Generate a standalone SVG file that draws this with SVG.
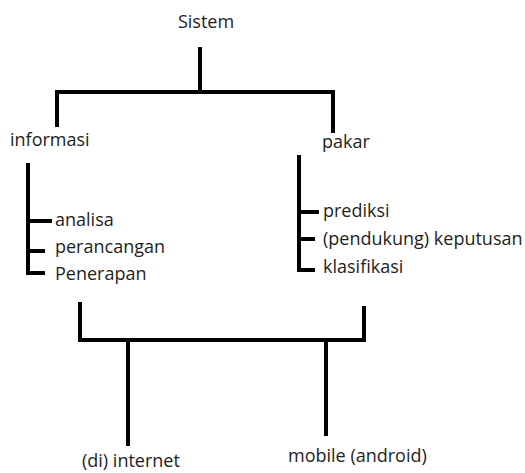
<svg xmlns="http://www.w3.org/2000/svg" width="525" height="473" viewBox="0 0 525 473">
<style>
text{font-family:"Open Sans","DejaVu Sans",sans-serif;font-size:18px;fill:#1e1e1e}
.c{fill:none;stroke:#000;stroke-width:4;stroke-linecap:butt;stroke-linejoin:miter}
</style>
<rect width="525" height="473" fill="#fff"/>
<g id="connectors">
<path class="c" d="M200 47V92"/>
<path class="c" d="M57 127V92H333V133"/>
<path class="c" d="M28 163V275"/>
<path class="c" d="M28 221H52M28 251H45M28 273H45"/>
<path class="c" d="M299 155V272"/>
<path class="c" d="M299 212H319M299 239H315M299 270H315"/>
<path class="c" d="M80 302V340H364V306"/>
<path class="c" d="M128 340V446M326 340V436"/>
</g>
<g id="sistem"><text x="206" y="28" text-anchor="middle">Sistem</text></g>
<g id="informasi"><text x="10" y="146">informasi</text></g>
<g id="pakar"><text x="322" y="148">pakar</text></g>
<g id="analisa"><text x="55" y="226">analisa</text></g>
<g id="perancangan"><text x="55" y="253">perancangan</text></g>
<g id="penerapan"><text x="55" y="280">Penerapan</text></g>
<g id="prediksi"><text x="323" y="217">prediksi</text></g>
<g id="keputusan"><text x="323" y="245">(pendukung) keputusan</text></g>
<g id="klasifikasi"><text x="323" y="273">klasifikasi</text></g>
<g id="internet"><text x="82" y="467">(di) internet</text></g>
<g id="mobile"><text x="288" y="462">mobile (android)</text></g>
</svg>
